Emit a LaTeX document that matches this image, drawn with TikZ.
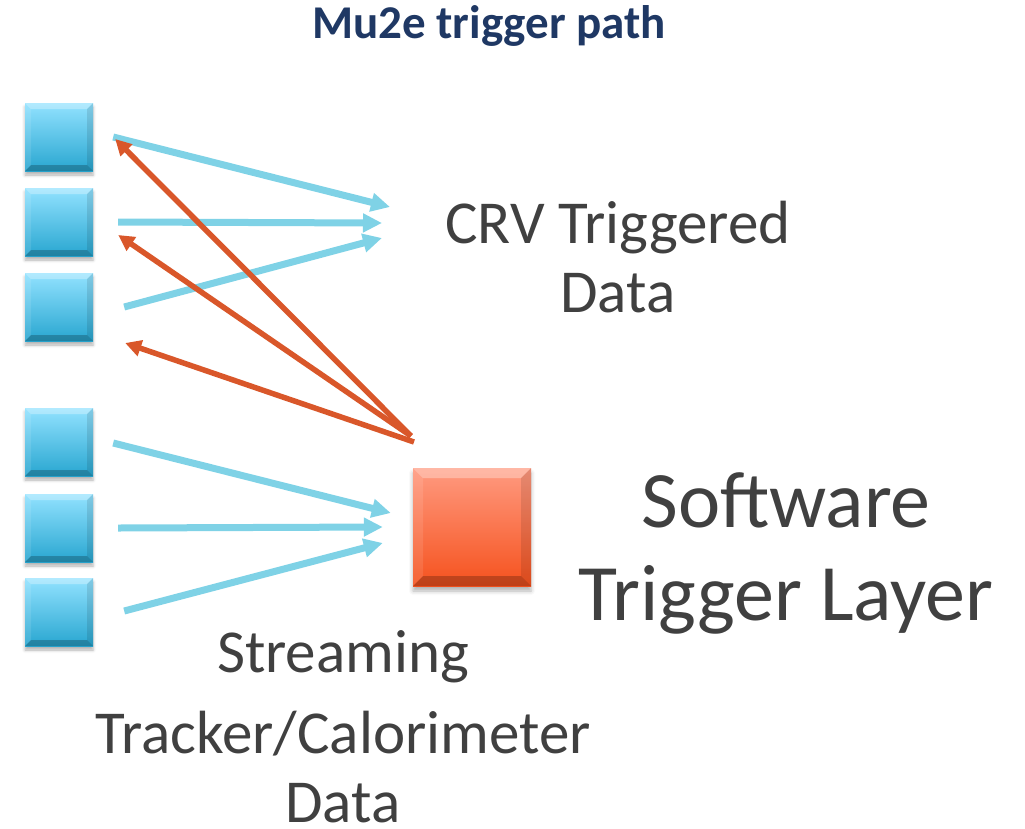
\documentclass[tikz,border=0pt]{standalone}
\usepackage{fontspec}
\setmainfont{Carlito}
\usetikzlibrary{arrows.meta,shadows.blur}
\definecolor{titleblue}{HTML}{1F3864}
\definecolor{labelgray}{HTML}{404040}
\definecolor{feedblue}{HTML}{7FD2E6}
\definecolor{backred}{HTML}{D9572A}
\definecolor{cubetop}{HTML}{92E2FF}
\definecolor{cubebot}{HTML}{28A6D0}
\definecolor{trigtop}{HTML}{FF9A80}
\definecolor{trigbot}{HTML}{F5521E}
\tikzset{
  bevel/.style={path picture={
    \fill[white,opacity=0.3]
      (path picture bounding box.north west) -- (path picture bounding box.north east)
      -- ([xshift=-#1,yshift=-#1]path picture bounding box.north east)
      -- ([xshift=#1,yshift=-#1]path picture bounding box.north west) -- cycle;
    \fill[white,opacity=0.1]
      (path picture bounding box.north west) -- ([xshift=#1,yshift=-#1]path picture bounding box.north west)
      -- ([xshift=#1,yshift=#1]path picture bounding box.south west)
      -- (path picture bounding box.south west) -- cycle;
    \fill[black,opacity=0.1]
      (path picture bounding box.north east) -- ([xshift=-#1,yshift=-#1]path picture bounding box.north east)
      -- ([xshift=-#1,yshift=#1]path picture bounding box.south east)
      -- (path picture bounding box.south east) -- cycle;
    \fill[black,opacity=0.22]
      (path picture bounding box.south west) -- (path picture bounding box.south east)
      -- ([xshift=-#1,yshift=#1]path picture bounding box.south east)
      -- ([xshift=#1,yshift=#1]path picture bounding box.south west) -- cycle;
  }},
  cube/.style={rectangle, minimum size=68pt, inner sep=0pt, draw=none,
    top color=cubetop, bottom color=cubebot, bevel=6pt,
    blur shadow={shadow xshift=0pt, shadow yshift=-4pt, shadow blur radius=3pt, shadow opacity=30}},
  trigcube/.style={rectangle, minimum size=118pt, inner sep=0pt, draw=none,
    top color=trigtop, bottom color=trigbot, bevel=10pt,
    blur shadow={shadow xshift=0pt, shadow yshift=-5pt, shadow blur radius=4pt, shadow opacity=30}},
  feed/.style={draw=feedblue, line width=7pt,
    -{Triangle[length=19pt,width=18pt]}},
  back/.style={draw=backred, line width=5.5pt,
    -{Triangle[length=16pt,width=16pt]}},
  label/.style={text=labelgray, font=\fontsize{61}{69}\selectfont, align=center, inner sep=0pt},
}
\begin{document}
\begin{tikzpicture}[x=1pt,y=-1pt]
\useasboundingbox (0,0) rectangle (1025,828);

% title
\node[text=titleblue, font=\bfseries\fontsize{47}{54}\selectfont, anchor=base] (title) at (489,38) {Mu2e trigger path};

% front-end boxes
\node[cube] (b1) at (59,137) {};
\node[cube] (b2) at (59,222) {};
\node[cube] (b3) at (59,307) {};
\node[cube] (b4) at (59,442) {};
\node[cube] (b5) at (59,528) {};
\node[cube] (b6) at (59,612) {};

% software trigger box
\node[trigcube] (sw) at (472,527) {};

% labels (anchored at the baseline of their last line)
\node[label, anchor=base] (crv) at (618,312) {CRV Triggered\\Data};
\node[label, anchor=base, font=\fontsize{80}{93}\selectfont] (swl) at (786,620) {Software\\Trigger Layer};
\node[label, anchor=base] (stream) at (343,822) {Streaming\\[12pt]Tracker/Calorimeter\\Data};

% arrow end points
\coordinate (crv1) at (390,207);
\coordinate (crv2) at (382,223);
\coordinate (crv3) at (382,238);
\coordinate (sw1) at ([xshift=-22pt,yshift=14pt]sw.west);
\coordinate (sw2) at ([xshift=-30pt]sw.west);
\coordinate (sw3) at ([xshift=-30pt,yshift=-16pt]sw.west);
\coordinate (src) at (411,436);

% triggered readout of the CRV boxes
\draw[feed] ([xshift=20pt]b1.east) -- (crv1);
\draw[feed] ([xshift=25pt]b2.east) -- (crv2);
\draw[feed] ([xshift=31pt]b3.east) -- (crv3);

% streaming readout into the software trigger
\draw[feed] ([xshift=20pt,yshift=-1pt]b4.east) -- (sw1);
\draw[feed] ([xshift=25pt]b5.east) -- (sw2);
\draw[feed] ([xshift=31pt,yshift=1pt]b6.east) -- (sw3);

% trigger requests sent back to the CRV
\draw[back] (src) -- ([xshift=22pt,yshift=-2pt]b1.east);
\draw[back] (src) -- ([xshift=25pt,yshift=-13pt]b2.east);
\draw[back] ([xshift=3pt,yshift=-6pt]src) -- ([xshift=32pt,yshift=-36pt]b3.east);
\end{tikzpicture}
\end{document}
